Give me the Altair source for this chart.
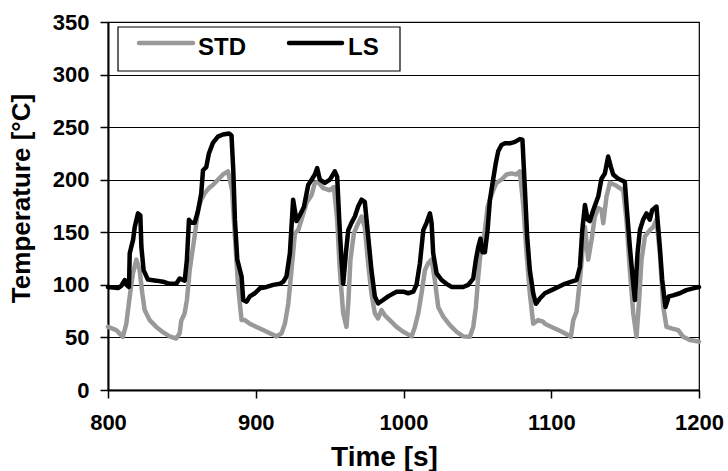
import altair as alt
import pandas as pd

# ---- data ----
ls_time = [800.0, 806.8, 809.0, 811.3, 812.4, 814.2, 814.7, 817.0, 818.1, 820.3, 821.9, 822.6, 824.1, 827.0,
           832.7, 837.2, 841.7, 846.2, 848.5, 851.9, 853.4, 854.8, 856.3, 858.6, 860.9, 863.1, 864.3, 866.5,
           868.3, 871.0, 874.4, 877.8, 881.9, 883.6, 884.8, 885.9, 887.5, 890.4, 891.5, 893.8, 896.0, 899.4,
           902.8, 907.3, 911.8, 916.3, 918.6, 920.8, 923.1, 925.3, 927.6, 929.9, 932.6, 935.5, 937.8, 940.0,
           941.6, 943.4, 946.8, 950.2, 953.5, 955.1, 956.5, 958.0, 959.2, 961.0, 962.6, 964.8, 967.1, 969.3,
           971.6, 973.8, 976.1, 978.3, 980.6, 982.8, 986.2, 989.6, 990.8, 995.3, 999.8, 1003.2, 1006.6, 1008.8,
           1011.1, 1013.4, 1015.6, 1017.9, 1019.0, 1020.1, 1022.4, 1025.8, 1029.1, 1032.5, 1035.9, 1040.4,
           1043.8, 1047.2, 1049.0, 1050.6, 1052.1, 1053.5, 1055.1, 1056.9, 1058.5, 1060.3, 1062.5, 1064.1,
           1066.3, 1068.6, 1072.0, 1075.4, 1078.7, 1080.5, 1082.1, 1083.7, 1085.5, 1087.8, 1089.6, 1092.3,
           1095.7, 1100.2, 1104.7, 1109.2, 1113.7, 1117.1, 1119.4, 1121.0, 1122.8, 1124.6, 1126.1, 1128.4,
           1131.8, 1134.0, 1136.3, 1138.5, 1140.3, 1141.9, 1145.3, 1149.8, 1150.9, 1153.2, 1155.5, 1156.6,
           1158.4, 1160.0, 1162.2, 1164.5, 1166.7, 1168.3, 1171.2, 1173.5, 1175.1, 1177.3, 1179.6, 1182.5,
           1187.0, 1191.5, 1196.0, 1200.0]
ls_temp = [98, 97, 99, 104.6, 100, 98, 130, 143, 155, 168, 166, 136, 114, 105,
           104, 103, 101, 101, 106, 104, 124, 162, 159, 159, 170, 187, 209, 212,
           225, 235, 241, 243, 244, 242, 209, 162, 124, 108, 85.6, 84, 89, 92,
           96.7, 98, 100, 101, 103, 108, 130, 181, 160.7, 166.5, 174, 195, 200, 205,
           211, 200, 197, 200, 208, 203, 162, 124, 101, 130, 152, 159, 165, 174.5,
           181, 179, 146, 114, 89, 82.4, 85.6, 89, 90, 93.5, 93.5, 92, 93.5, 100,
           120.5, 152, 159, 168, 159, 130, 111, 104.6, 101, 98, 98, 98,
           100, 106, 124, 136, 144, 131, 131, 152, 181, 197, 216, 227,
           233, 234.6, 234.6, 236, 238.6, 238, 193, 146, 114, 92, 82, 87,
           92, 95, 98, 101, 103, 104.6, 117, 152, 176, 162, 160.7, 171,
           184, 201, 206, 222, 212.5, 205, 201, 198, 177, 136, 101, 85.6,
           130, 152, 162, 168, 162, 171, 174.5, 136, 104.6, 79, 89, 90,
           92, 95, 96.7, 98]

std_time = [800.0, 805.6, 810.1, 812.4, 814.7, 816.9, 819.2, 821.4, 823.2, 824.8, 828.2, 832.7, 837.2,
            841.7, 846.2, 848.5, 849.6, 851.9, 853.4, 855.3, 856.3, 858.6, 860.9, 863.1, 865.4, 868.3,
            871.0, 874.4, 877.8, 881.2, 884.0, 885.9, 888.1, 890.4, 892.6, 896.0, 900.5, 905.0, 909.6,
            914.1, 917.5, 919.7, 922.0, 924.2, 926.5, 928.7, 931.0, 934.4, 937.8, 940.0, 942.3, 945.6,
            950.2, 952.9, 955.1, 956.9, 959.2, 961.4, 962.6, 964.1, 966.4, 969.3, 971.6, 973.8, 976.1,
            978.3, 980.6, 982.8, 985.1, 987.4, 990.7, 995.3, 999.8, 1005.5, 1007.7, 1010.0, 1012.2,
            1014.5, 1016.7, 1019.0, 1021.2, 1023.5, 1026.9, 1031.4, 1035.9, 1040.4, 1044.9, 1047.2,
            1049.0, 1050.6, 1052.1, 1055.1, 1056.9, 1058.5, 1060.7, 1063.0, 1066.3, 1069.7, 1073.1,
            1076.5, 1078.7, 1081.0, 1083.3, 1085.5, 1087.8, 1091.1, 1094.5, 1095.7, 1100.2, 1104.7,
            1109.2, 1113.3, 1114.9, 1117.1, 1119.4, 1121.0, 1122.8, 1125.0, 1127.3, 1129.5, 1131.8,
            1134.0, 1135.2, 1137.4, 1139.7, 1143.1, 1146.4, 1148.7, 1150.9, 1153.2, 1155.5, 1157.7,
            1159.3, 1161.1, 1163.4, 1166.7, 1169.0, 1171.2, 1173.5, 1175.8, 1178.0, 1181.4, 1185.9,
            1189.3, 1193.8, 1200.0]
std_temp = [60, 57, 50.6, 63, 89, 111, 124, 114, 92, 76, 66.5, 60, 55,
            51, 49, 54, 66, 73, 85.6, 114, 124, 146, 171, 181, 187, 192,
            195, 200, 205, 208, 190, 146, 98, 66.5, 66.5, 63, 60, 57, 54,
            51, 54, 63, 82, 114, 149, 152, 162, 178, 185.5, 197, 198, 192,
            190, 193, 162, 114, 73, 60, 82, 124, 149, 158.6, 165, 155, 120,
            92, 73, 68, 76, 71, 66.5, 60, 55.4, 51, 60, 73, 92,
            114, 120.5, 124, 104.6, 79, 69.7, 61.7, 55.4, 51, 50.6, 60,
            79, 108, 130, 152, 174, 181, 190, 197, 200, 205, 206,
            205, 208, 177, 130, 92, 63, 66.5, 65, 63, 60, 57,
            54, 50.6, 66.5, 74.4, 104.6, 130, 155, 124, 143, 165, 173,
            171.5, 158.6, 184, 197, 195, 192, 190, 162, 114, 73, 50.6,
            82, 124, 146, 152, 155, 162, 130, 79, 60, 58.6, 57,
            50.6, 47.5, 46]

x_ticks = [800, 900, 1000, 1100, 1200]
y_ticks = [0, 50, 100, 150, 200, 250, 300, 350]
series_names = ["STD", "LS"]
series_colors = ["#999999", "#000000"]

FONT = "Liberation Sans"
LW = 4.5

std_df = pd.DataFrame({"time": std_time, "temp": std_temp, "series": "STD"})
ls_df = pd.DataFrame({"time": ls_time, "temp": ls_temp, "series": "LS"})

x_enc = alt.X("time:Q",
              scale=alt.Scale(domain=[800, 1200], nice=False, zero=False),
              axis=alt.Axis(values=x_ticks, format="d", title="Time [s]", grid=False,
                            domainColor="black", domainWidth=2,
                            tickColor="black", tickWidth=1.5, tickSize=8,
                            labelFont=FONT, labelFontSize=22, labelFontWeight="bold",
                            labelColor="black", labelPadding=14, labelFlush=False,
                            titleFont=FONT, titleFontSize=28, titleFontWeight="bold",
                            titleColor="black", titleX=276, titleY=75,
                            titleBaseline="alphabetic", titleAlign="center"))
y_enc = alt.Y("temp:Q",
              scale=alt.Scale(domain=[0, 350], nice=False),
              axis=alt.Axis(values=y_ticks, format="d", title="Temperature [°C]", grid=True,
                            gridColor="black", gridWidth=1.2,
                            domainColor="black", domainWidth=2,
                            tickColor="black", tickWidth=1.5, tickSize=8,
                            labelFont=FONT, labelFontSize=22, labelFontWeight="bold",
                            labelColor="black", labelPadding=11, labelFlush=False,
                            titleFont=FONT, titleFontSize=26, titleFontWeight="bold",
                            titleColor="black", titleX=-87, titleY=176,
                            titleBaseline="middle", titleAlign="center", titleAngle=270))

std_line = alt.Chart(std_df).mark_line(
    color=series_colors[0], strokeWidth=LW, strokeJoin="round", strokeCap="round"
).encode(x=x_enc, y=y_enc, order="time:Q")

ls_line = alt.Chart(ls_df).mark_line(
    color=series_colors[1], strokeWidth=LW, strokeJoin="round", strokeCap="round"
).encode(x=x_enc, y=y_enc, order="time:Q")

# legend box
one = pd.DataFrame({"k": [0]})
legend_box = alt.Chart(one).mark_rect(fill="white", stroke="black", strokeWidth=1.2).encode(
    x=alt.value(10), x2=alt.value(292), y=alt.value(5), y2=alt.value(49))

std_sym = alt.Chart(one).mark_rule(color=series_colors[0], strokeWidth=LW, strokeCap="round").encode(
    x=alt.value(31), x2=alt.value(85), y=alt.value(21))
ls_sym = alt.Chart(one).mark_rule(color=series_colors[1], strokeWidth=LW, strokeCap="round").encode(
    x=alt.value(181), x2=alt.value(234), y=alt.value(21))

std_lab = alt.Chart(pd.DataFrame({"label": [series_names[0]]})).mark_text(
    font=FONT, fontSize=24, fontWeight="bold", color="black", align="left", baseline="alphabetic"
).encode(x=alt.value(90), y=alt.value(33), text="label:N")
ls_lab = alt.Chart(pd.DataFrame({"label": [series_names[1]]})).mark_text(
    font=FONT, fontSize=24, fontWeight="bold", color="black", align="left", baseline="alphabetic"
).encode(x=alt.value(240), y=alt.value(33), text="label:N")

chart = alt.layer(std_line, ls_line, legend_box, std_sym, ls_sym, std_lab, ls_lab).properties(
    width=591, height=368,
    autosize=alt.AutoSizeParams(type="none"),
    padding={"left": 108, "top": 22, "right": 29, "bottom": 81},
    background="white",
).configure_view(stroke="black", strokeWidth=1.2)

chart.save("out.html", embed_options={"renderer": "svg", "actions": False})
